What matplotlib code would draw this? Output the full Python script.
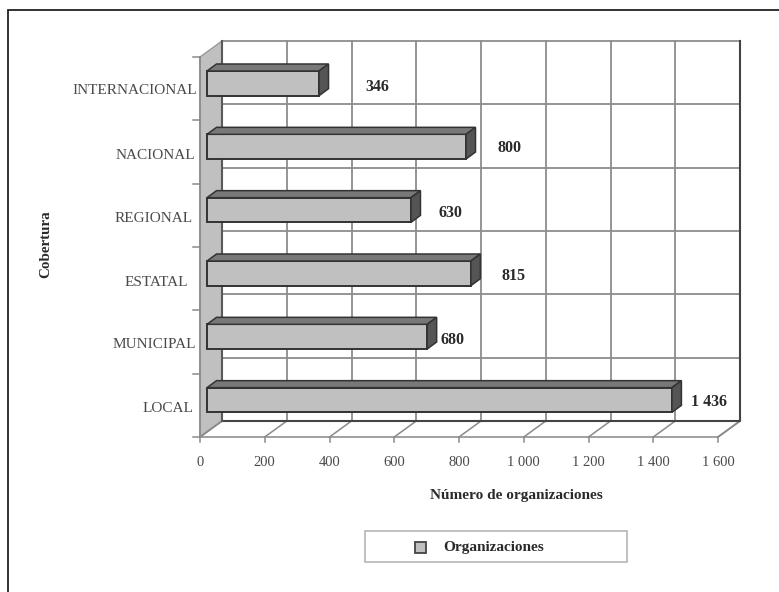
#!/usr/bin/env python3
"""Cobertura de las organizaciones, barras horizontales con efecto 3D"""

import matplotlib
matplotlib.use("Agg")
import matplotlib.pyplot as plt
from matplotlib.patches import Polygon, Rectangle

categories = ["LOCAL", "MUNICIPAL", "ESTATAL", "REGIONAL", "NACIONAL", "INTERNACIONAL"]
values = [1436, 680, 815, 630, 800, 346]
value_labels = ["1 436", "680", "815", "630", "800", "346"]
x_ticks = [0, 200, 400, 600, 800, 1000, 1200, 1400, 1600]
x_tick_labels = ["0", "200", "400", "600", "800", "1 000", "1 200", "1 400", "1 600"]

W, H = 779, 592
plt.rcParams["font.family"] = ["Liberation Serif", "DejaVu Serif"]

fig = plt.figure(figsize=(W / 100, H / 100), dpi=100)
# front plane of the chart, in pixels
ax = fig.add_axes([200 / W, 1 - 437 / H, 518 / W, 380 / H])
ax.set_xlim(0, 1600)
ax.set_ylim(0, 6)
ax.axis("off")

# pixel sizes turned into data units
ux = 1600 / 518
uy = 6 / 380
dx, dy = 22 * ux, 16 * uy      # depth of the box
bx, by = 9.5 * ux, 7 * uy      # depth of each bar
GRID = "#8c8c8c"

# outer frame
fig.add_artist(Rectangle((8 / W, -0.1), 1, 1.1 - 10 / H, transform=fig.transFigure,
                         fill=False, ec="#222222", lw=1.3))

# left wall and floor
ax.add_patch(Polygon([(0, 0), (dx, dy), (dx, 6 + dy), (0, 6)], closed=True, fc="#c0c0c0",
                     ec="#999999", lw=1, clip_on=False, zorder=1))
ax.add_patch(Polygon([(0, 0), (1600, 0), (1600 + dx, dy), (dx, dy)], closed=True, fc="white",
                     ec="#999999", lw=1.3, clip_on=False, zorder=1))

# back wall grid
for t in x_ticks:
    ax.plot([t + dx, t + dx], [dy, 6 + dy], color=GRID, lw=1.3, clip_on=False, zorder=1)
    ax.plot([t, t + dx], [0, dy], color="#8a8a8a", lw=1.1, clip_on=False, zorder=1)
    ax.plot([t, t], [0, -5 * uy], color="#8a8a8a", lw=1.1, clip_on=False, zorder=1)
for k in range(7):
    ax.plot([dx, 1600 + dx], [k + dy, k + dy], color=GRID, lw=1.3, clip_on=False, zorder=1)
    ax.plot([-7 * ux, 0], [k, k], color="#8a8a8a", lw=1.1, clip_on=False, zorder=1)
ax.plot([dx, 1600 + dx, 1600 + dx], [dy, dy, 6 + dy], color="#444444", lw=1.5,
        clip_on=False, zorder=2)
ax.plot([dx, dx], [dy, 6 + dy], color="#5a5a5a", lw=1.5, clip_on=False, zorder=2)
ax.plot([0, 0], [0, 6], color="#8a8a8a", lw=1.2, clip_on=False, zorder=2)

# bars
positions = [k + 0.5 + 0.084 for k in range(len(values))]
bar_h = 0.39
start = 7 * ux
ax.barh(positions, values, left=start, height=bar_h, color="#c0c0c0", edgecolor="#333333",
        lw=1.4, zorder=3, clip_on=False)
for y, v in zip(positions, values):
    x0, x1 = start, start + v
    y0, y1 = y - bar_h / 2, y + bar_h / 2
    ax.add_patch(Polygon([(x0, y1), (x1, y1), (x1 + bx, y1 + by), (x0 + bx, y1 + by)], closed=True,
                         fc="#787878", ec="#333333", lw=1.1, clip_on=False, zorder=3))
    ax.add_patch(Polygon([(x1, y0), (x1 + bx, y0 + by), (x1 + bx, y1 + by), (x1, y1)], closed=True,
                         fc="#555555", ec="#333333", lw=1.1, clip_on=False, zorder=3))

# value labels, the gap after each bar changes in the original
label_gaps = [9.5, 3.5, 21.5, 18.5, 21.5, 36.5]
label_down = [2, 3, 3, 3, 1, 4]
for y, v, txt, gap, d in zip(positions, values, value_labels, label_gaps, label_down):
    ax.annotate(txt, (start + v + bx, y), xytext=(gap * 0.72, -d * 0.72), textcoords="offset points",
                ha="left", va="center", fontsize=11.5, fontweight="bold", color="#2a2a2a",
                annotation_clip=False, zorder=4)

# category labels do not line up on the right either
cat_right = [-7, -4, -12, -7, -5, -3]
cat_down = [3.5, 3, 3.5, 3.5, 3.5, 2]
for k, (name, r, d) in enumerate(zip(categories, cat_right, cat_down)):
    ax.annotate(name, (0, k + 0.5), xytext=(r * 0.72, -d * 0.72), textcoords="offset points",
                ha="right", va="center", fontsize=11, color="#4a4a4a", annotation_clip=False)

for t, name in zip(x_ticks, x_tick_labels):
    ax.annotate(name, (t, 0), xytext=(0, -25.5 * 0.72), textcoords="offset points",
                ha="center", va="center", fontsize=10.5, color="#4a4a4a", annotation_clip=False)

fig.text(516 / W, 1 - 496 / H, "Número de organizaciones", ha="center", va="center",
         fontsize=11, fontweight="bold", color="#2a2a2a")
fig.text(46 / W, 1 - 244 / H, "Cobertura", rotation=90, ha="center", va="center",
         fontsize=10.8, fontweight="bold", color="#2a2a2a")

# legend box, the bottom edge is faint in the original scan
fig.add_artist(Rectangle((365 / W, 1 - 562 / H), 262 / W, 31 / H, transform=fig.transFigure,
                         fc="white", ec="#b0b0b0", lw=1.1))
fig.add_artist(Rectangle((415 / W, 1 - 553 / H), 11 / W, 11 / H, transform=fig.transFigure,
                         fc="#c0c0c0", ec="#444444", lw=1.3))
fig.text(443 / W, 1 - 548 / H, "Organizaciones", ha="left", va="center", fontsize=11,
         fontweight="bold", color="#2a2a2a")

fig.savefig("out.png", dpi=100)
